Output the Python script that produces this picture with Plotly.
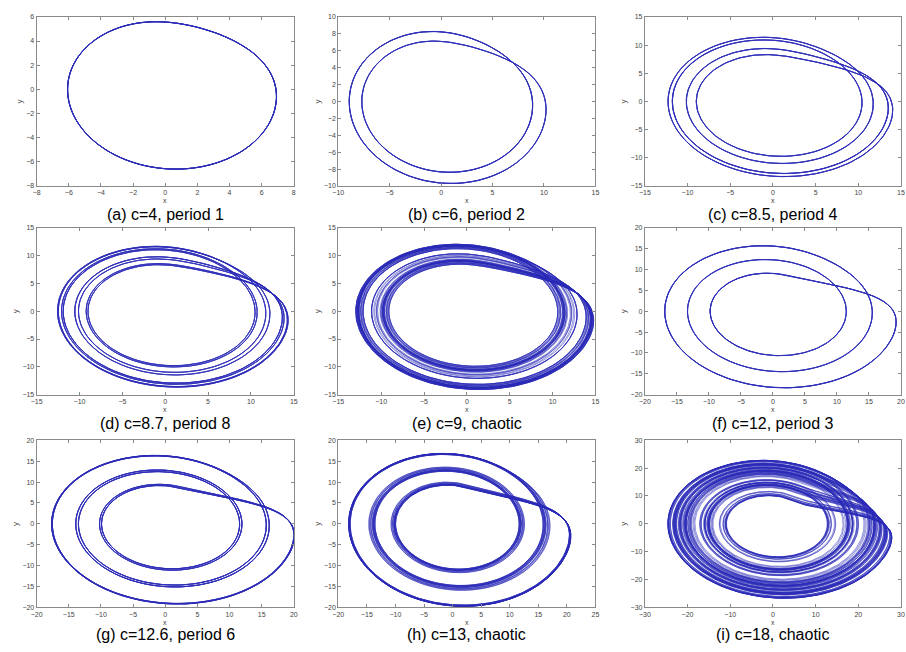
import numpy as np
import plotly.graph_objects as go

# Rössler system  dx=-y-z, dy=x+a*y, dz=b+z*(x-c)
A_PARAM = 0.1
B_PARAM = 0.1
C_VALUES = [4, 6, 8.5, 8.7, 9, 12, 12.6, 13, 18]
CAPTIONS = [
    "(a) c=4, period 1", "(b) c=6, period 2", "(c) c=8.5, period 4",
    "(d) c=8.7, period 8", "(e) c=9, chaotic", "(f) c=12, period 3",
    "(g) c=12.6, period 6", "(h) c=13, chaotic", "(i) c=18, chaotic",
]
X_RANGES = [(-8, 8), (-10, 15), (-15, 15), (-15, 15), (-15, 15), (-20, 20), (-20, 20), (-20, 25), (-30, 30)]
Y_RANGES = [(-8, 6), (-10, 10), (-15, 15), (-15, 15), (-15, 15), (-20, 20), (-20, 20), (-20, 20), (-30, 30)]
X_STEPS = [2, 5, 5, 5, 5, 5, 5, 5, 10]
Y_STEPS = [2, 2, 5, 5, 5, 5, 5, 5, 10]
SIM_TIME = [60, 80, 150, 250, 500, 120, 250, 400, 800]

W, H = 906, 652
COLS_PX = [(31, 291), (336, 596), (646, 905)]
ROWS_PX = [(13, 184), (226, 395), (441, 610)]
CAPTION_Y_PX = [213, 424, 637]


def rossler(c, t_keep, dt=0.01, t_skip=300.0):
    def f(s):
        x, y, z = s
        return np.array([-y - z, x + A_PARAM * y, B_PARAM + z * (x - c)])

    s = np.array([1.0, 1.0, 0.0])
    n_skip = int(t_skip / dt)
    n_keep = int(t_keep / dt)
    out = np.empty((n_keep, 2))
    for i in range(n_skip + n_keep):
        k1 = f(s)
        k2 = f(s + 0.5 * dt * k1)
        k3 = f(s + 0.5 * dt * k2)
        k4 = f(s + dt * k3)
        s = s + dt / 6.0 * (k1 + 2 * k2 + 2 * k3 + k4)
        if i >= n_skip:
            out[i - n_skip] = s[:2]
    return out[::3]


fig = go.Figure()
line_color = "rgb(45,45,185)"
small_font = dict(size=7, color="#444", family="Liberation Sans, Arial")

for k, c in enumerate(C_VALUES):
    r, col = divmod(k, 3)
    traj = rossler(c, SIM_TIME[k])
    xa = "x" if k == 0 else f"x{k + 1}"
    ya = "y" if k == 0 else f"y{k + 1}"
    fig.add_trace(go.Scatter(
        x=np.round(traj[:, 0], 3), y=np.round(traj[:, 1], 3),
        mode="lines", line=dict(color=line_color, width=0.5),
        xaxis=xa, yaxis=ya, showlegend=False, hoverinfo="skip",
    ))
    x0, x1 = COLS_PX[col]
    t0, t1 = ROWS_PX[r]
    axis_common = dict(
        showgrid=False, zeroline=False, showline=True, mirror="ticks",
        linecolor="#8a8a8a", linewidth=1, ticks="inside", ticklen=3,
        tickcolor="#8a8a8a", tickfont=small_font, fixedrange=True,
    )
    xr, yr = X_RANGES[k], Y_RANGES[k]
    fig.update_layout(**{
        ("xaxis" if k == 0 else f"xaxis{k + 1}"): dict(
            axis_common, domain=[x0 / W, x1 / W], range=list(xr), anchor=ya,
            tickmode="linear", tick0=xr[0], dtick=X_STEPS[k], ticklabelstandoff=0,
        ),
        ("yaxis" if k == 0 else f"yaxis{k + 1}"): dict(
            axis_common, domain=[1 - t1 / H, 1 - t0 / H], range=list(yr), anchor=xa,
            tickmode="linear", tick0=yr[0], dtick=Y_STEPS[k],
            title=dict(text="y", font=dict(size=8, color="#444"), standoff=2),
        ),
    })
    # x-axis title, just below the tick labels
    fig.add_annotation(
        x=(x0 + x1) / 2 / W, y=1 - (t1 + 15) / H, xref="paper", yref="paper",
        text="x", showarrow=False, xanchor="center", yanchor="middle",
        font=dict(size=7, color="#444", family="Liberation Sans, Arial"),
    )
    fig.add_annotation(
        x=(x0 + x1) / 2 / W, y=1 - CAPTION_Y_PX[r] / H, xref="paper", yref="paper",
        text=CAPTIONS[k], showarrow=False, xanchor="center", yanchor="middle",
        font=dict(size=16, color="black", family="Liberation Sans, Arial"),
    )

fig.update_layout(
    width=W, height=H, margin=dict(l=0, r=0, t=0, b=0),
    paper_bgcolor="white", plot_bgcolor="white",
)
fig.write_html("out.html")
